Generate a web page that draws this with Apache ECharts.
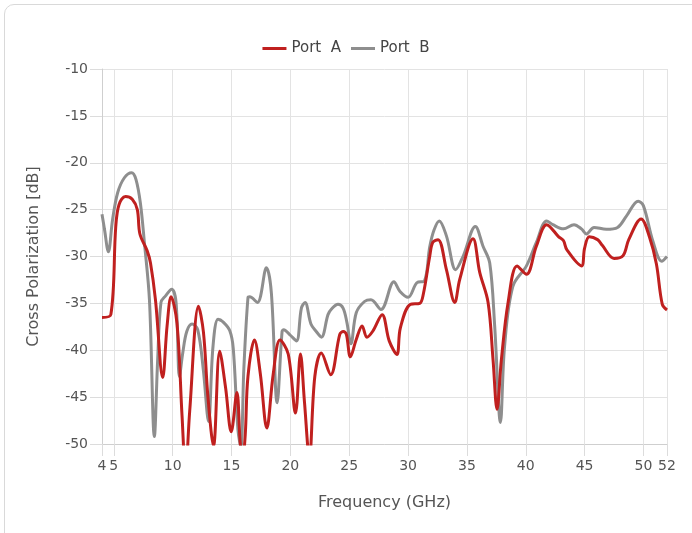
<!DOCTYPE html>
<html>
<head>
<meta charset="utf-8">
<script src="https://cdn.jsdelivr.net/npm/echarts@6/dist/echarts.min.js"></script>
<style>
  html, body { margin: 0; padding: 0; background: #fff; overflow: hidden; }
  #card { position: absolute; left: 4px; top: 4px; width: 740px; height: 580px;
          border: 1px solid #d9d9d9; border-radius: 10px; box-sizing: border-box; }
  #chart { position: absolute; left: 0; top: 0; width: 692px; height: 533px; }
</style>
</head>
<body>
<div id="card"></div>
<div id="chart"></div>
<script>
// ---- data ----
const seriesNames = ['Port  A', 'Port  B'];
const xTickValues = [4, 5, 10, 15, 20, 25, 30, 35, 40, 45, 50, 52];
const yTickValues = [-10, -15, -20, -25, -30, -35, -40, -45, -50];

const freqA = [4.0, 4.75, 5.17, 5.45, 6.0, 6.57, 7.0, 7.22, 7.84, 8.12, 8.54, 9.16, 9.53, 9.87, 10.37, 10.8, 11.1, 11.45, 12.2, 12.62, 13.0, 13.47, 14.0, 14.5, 14.98, 15.46, 15.75, 15.95, 16.17, 16.4, 16.95, 17.45, 18.0, 18.55, 19.12, 19.82, 20.44, 20.86, 21.2, 21.62, 22.08, 22.63, 23.43, 24.2, 24.5, 24.76, 25.1, 25.6, 26.1, 26.5, 27.0, 27.8, 28.4, 29.05, 29.35, 30.2, 31.0, 31.3, 31.84, 32.1, 32.55, 33.26, 33.97, 34.39, 35.52, 36.09, 36.8, 37.22, 37.56, 37.93, 38.5, 39.26, 40.06, 40.9, 41.78, 42.8, 43.2, 43.5, 44.73, 45.0, 45.4, 46.1, 46.5, 47.5, 48.27, 48.75, 49.8, 50.53, 51.1, 51.6, 52.0];
const valueA = [-36.5, -36.2, -26.8, -24.45, -23.6, -23.9, -25.0, -27.6, -29.4, -30.7, -34.6, -42.9, -37.4, -34.3, -37.1, -47.0, -53.0, -46.5, -35.3, -38.1, -45.0, -50.2, -40.1, -44.0, -48.7, -44.5, -50.0, -51.5, -49.0, -42.8, -38.9, -42.5, -48.3, -42.5, -38.9, -40.4, -46.7, -40.4, -45.5, -51.5, -42.8, -40.3, -42.6, -38.3, -38.0, -38.3, -40.7, -38.85, -37.4, -38.6, -37.97, -36.2, -39.0, -40.45, -37.6, -35.1, -35.0, -34.0, -30.0, -28.5, -28.2, -31.4, -34.9, -32.45, -28.1, -31.7, -34.9, -41.0, -46.3, -41.0, -34.9, -31.0, -31.9, -28.9, -26.6, -27.9, -28.3, -29.3, -31.0, -29.1, -27.9, -28.2, -28.8, -30.2, -29.9, -28.2, -26.0, -28.0, -30.8, -35.1, -35.7];

const freqB = [4.0, 4.2, 4.54, 4.9, 5.33, 5.9, 6.52, 6.89, 7.26, 7.6, 8.03, 8.45, 8.73, 9.01, 9.4, 9.92, 10.29, 10.58, 10.86, 11.2, 11.65, 12.13, 12.6, 13.05, 13.43, 13.86, 14.3, 14.85, 15.15, 15.55, 15.8, 16.05, 16.4, 16.55, 17.2, 17.97, 18.39, 18.88, 19.3, 19.44, 20.0, 20.52, 20.94, 21.25, 21.75, 22.2, 22.64, 23.2, 23.5, 24.05, 24.48, 24.8, 25.15, 25.6, 26.3, 26.85, 27.7, 28.8, 29.3, 30.0, 30.75, 31.4, 31.84, 32.2, 32.65, 33.26, 34.05, 34.67, 35.72, 36.37, 36.94, 37.36, 37.85, 38.2, 38.9, 40.06, 40.9, 41.78, 42.3, 43.2, 44.1, 44.73, 45.16, 45.8, 46.85, 47.8, 48.55, 49.55, 50.0, 50.81, 51.55, 52.0];
const valueB = [-25.5, -27.0, -29.5, -26.05, -23.2, -21.6, -21.07, -21.8, -24.3, -28.5, -34.6, -49.2, -41.0, -34.9, -34.2, -33.5, -34.9, -42.8, -40.3, -38.0, -37.2, -37.8, -42.0, -47.6, -39.6, -36.7, -37.0, -37.9, -39.8, -48.5, -50.3, -42.0, -34.4, -34.3, -34.9, -31.2, -33.9, -45.6, -38.0, -37.8, -38.4, -39.0, -35.5, -34.9, -37.2, -38.0, -38.6, -36.2, -35.6, -35.1, -35.5, -37.0, -39.3, -36.0, -34.8, -34.6, -35.65, -32.7, -33.7, -34.35, -32.8, -32.6, -29.0, -27.2, -26.2, -27.8, -31.4, -30.0, -26.8, -28.9, -30.7, -37.4, -47.7, -39.6, -33.2, -31.0, -28.5, -26.2, -26.6, -27.05, -26.6, -27.05, -27.6, -26.9, -27.1, -26.9, -25.7, -24.1, -24.6, -28.4, -30.5, -30.0];

const pairs = (xs, ys) => xs.map((x, i) => [x, ys[i]]);

const FONT = '"DejaVu Sans", sans-serif';
const TXT = '#555';
const chart = echarts.init(document.getElementById('chart'), null, { renderer: 'canvas' });
chart.setOption({
  animation: false,
  backgroundColor: 'transparent',
  legend: {
    top: 36,
    left: 'center',
    icon: 'rect',
    itemWidth: 24,
    itemHeight: 3,
    itemGap: 10,
    textStyle: { fontFamily: FONT, fontSize: 15, color: '#444' },
    data: seriesNames
  },
  grid: { left: 102, right: 25, top: 69, bottom: 89, containLabel: false },
  xAxis: {
    type: 'value',
    min: 4, max: 52,
    name: 'Frequency (GHz)',
    nameLocation: 'middle',
    nameGap: 51,
    nameTextStyle: { fontFamily: FONT, fontSize: 16, color: TXT },
    axisLine: { show: true, lineStyle: { color: '#cfcfcf', width: 1 } },
    axisTick: { show: true, length: 12, customValues: xTickValues, lineStyle: { color: '#dcdcdc' } },
    axisLabel: { customValues: xTickValues, fontFamily: FONT, fontSize: 14, color: TXT, margin: 15, showMinLabel: true, showMaxLabel: true },
    splitLine: { show: true, customValues: xTickValues, lineStyle: { color: '#e3e3e3', width: 1 } }
  },
  yAxis: {
    type: 'value',
    min: -50, max: -10, interval: 5,
    name: 'Cross Polarization [dB]',
    nameLocation: 'middle',
    nameGap: 60,
    nameTextStyle: { fontFamily: FONT, fontSize: 16, color: TXT },
    axisLine: { show: true, lineStyle: { color: '#cfcfcf', width: 1 } },
    axisTick: { show: true, length: 12, lineStyle: { color: '#dcdcdc' } },
    axisLabel: { fontFamily: FONT, fontSize: 14, color: TXT, margin: 14 },
    splitLine: { show: true, lineStyle: { color: '#e3e3e3', width: 1 } }
  },
  series: [
    {
      name: seriesNames[0], type: 'line', data: pairs(freqA, valueA),
      smooth: 0.35, showSymbol: false, clip: true, z: 3,
      lineStyle: { color: '#c0201f', width: 3 }, itemStyle: { color: '#c0201f' }
    },
    {
      name: seriesNames[1], type: 'line', data: pairs(freqB, valueB),
      smooth: 0.35, showSymbol: false, clip: true, z: 2,
      lineStyle: { color: '#8e8e8e', width: 3 }, itemStyle: { color: '#8e8e8e' }
    }
  ]
});
</script>
</body>
</html>
